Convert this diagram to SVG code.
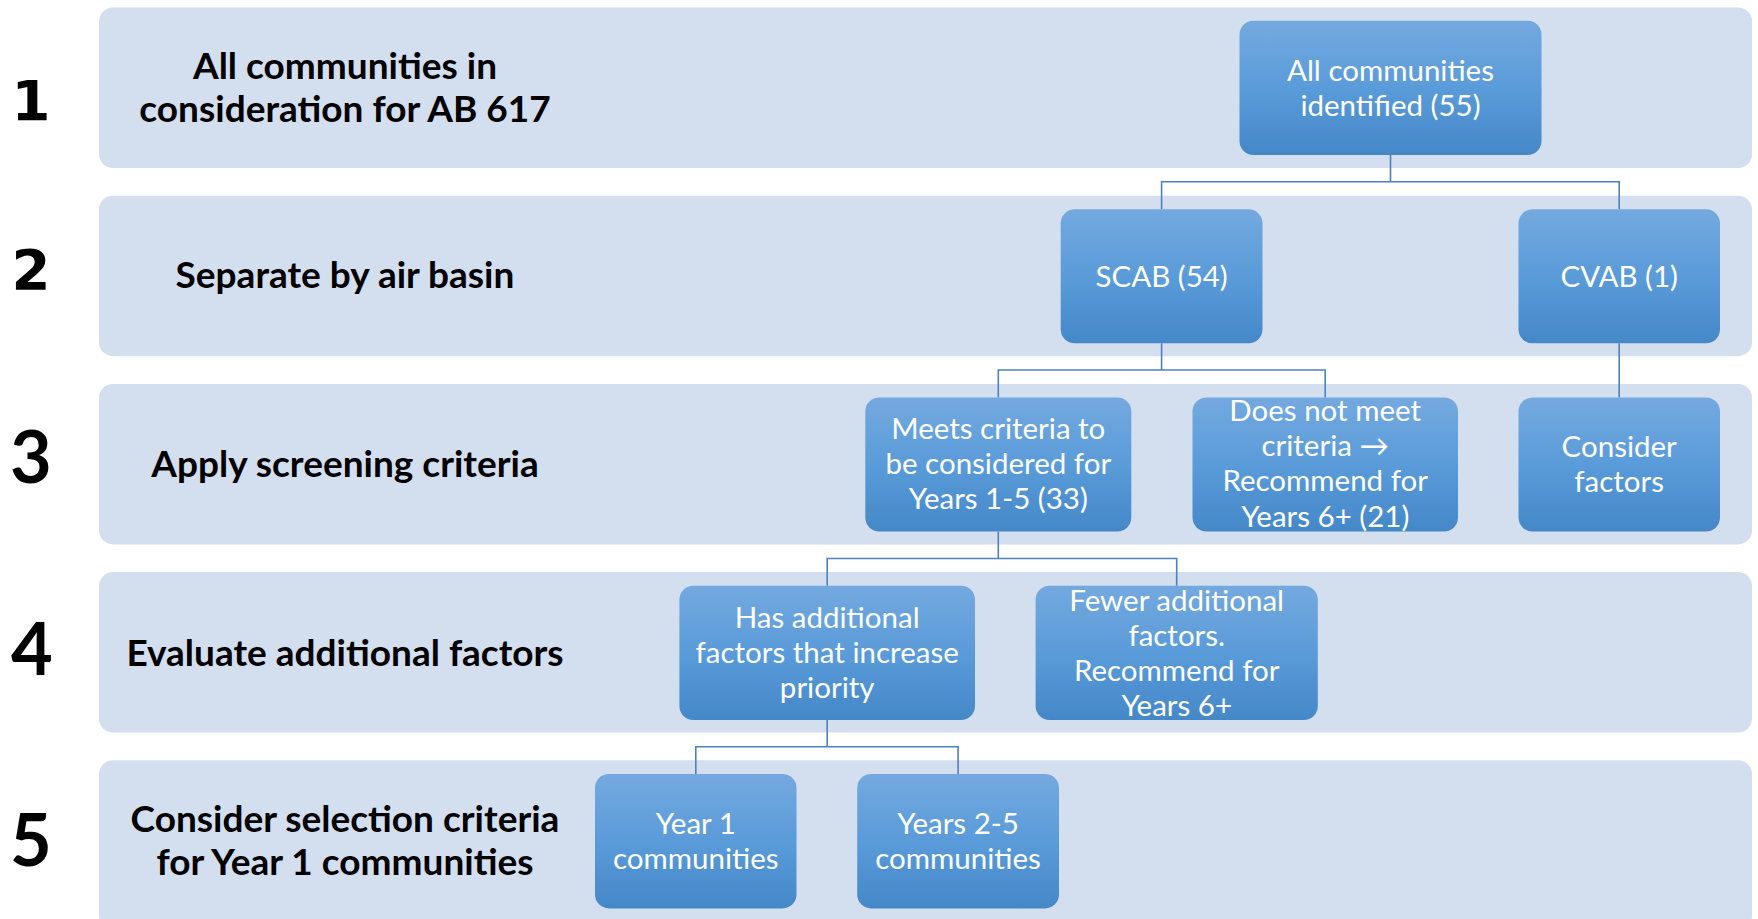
<svg xmlns="http://www.w3.org/2000/svg" width="1758" height="919" viewBox="0 0 1758 919">
  <defs>
    <linearGradient id="boxFill" x1="0" y1="0" x2="0" y2="1">
      <stop offset="0" stop-color="#74a9df"/>
      <stop offset="0.5" stop-color="#5a9bd9"/>
      <stop offset="1" stop-color="#4588c8"/>
    </linearGradient>
    <style>
      .band { fill: #d3deef; }
      .box { fill: url(#boxFill); }
      .step { font-family: Lato, "Liberation Sans", sans-serif; font-weight: 700; fill: #000; text-anchor: middle; }
      .stepv { font-family: "DejaVu Sans", Verdana, sans-serif; font-weight: 700; fill: #000; text-anchor: middle; }
      .label { font-family: Lato, "Liberation Sans", sans-serif; font-weight: 700; font-size: 37px; fill: #000; text-anchor: middle; }
      .txt { font-family: Lato, "Liberation Sans", sans-serif; font-size: 29.5px; fill: #fff; text-anchor: middle; }
      .conn { fill: none; stroke: #4f81bd; stroke-width: 1.6; }
    </style>
  </defs>

  <!-- stage bands -->
  <g id="band1">
    <rect class="band" x="99" y="7.5" width="1653" height="160.5" rx="14"/>
    <text class="stepv" x="31" y="119.5" font-size="56">1</text>
    <text class="label" x="345" y="78.5">All communities in</text>
    <text class="label" x="345" y="122">consideration for AB 617</text>
  </g>
  <g id="band2">
    <rect class="band" x="99" y="195.7" width="1653" height="160.5" rx="14"/>
    <text class="stepv" x="31" y="288.5" font-size="56">2</text>
    <text class="label" x="345" y="288">Separate by air basin</text>
  </g>
  <g id="band3">
    <rect class="band" x="99" y="383.9" width="1653" height="160.5" rx="14"/>
    <text class="step" x="31" y="482.5" font-size="72">3</text>
    <text class="label" x="345" y="476.5">Apply screening criteria</text>
  </g>
  <g id="band4">
    <rect class="band" x="99" y="572.1" width="1653" height="160.5" rx="14"/>
    <text class="step" x="32" y="674.5" font-size="72">4</text>
    <text class="label" x="345" y="666">Evaluate additional factors</text>
  </g>
  <g id="band5">
    <rect class="band" x="99" y="760.3" width="1653" height="170" rx="14"/>
    <text class="step" x="31" y="866" font-size="72">5</text>
    <text class="label" x="345" y="831.5">Consider selection criteria</text>
    <text class="label" x="345" y="875">for Year 1 communities</text>
  </g>

  <!-- connectors -->
  <g id="connectors">
    <path class="conn" d="M1390.5 155 V181.8 M1161.6 209.3 V181.8 H1619.2 V209.3"/>
    <path class="conn" d="M1161.6 343.3 V370 M998.3 397.5 V370 H1325.2 V397.5"/>
    <path class="conn" d="M1619.2 343.3 V397.5"/>
    <path class="conn" d="M998.3 531.5 V558.5 M827.2 585.7 V558.5 H1176.7 V585.7"/>
    <path class="conn" d="M827.2 720 V746.8 M695.8 773.9 V746.8 H958.1 V773.9"/>
  </g>

  <!-- nodes -->
  <g id="node-all">
    <rect class="box" x="1239.5" y="20.7" width="302" height="134.3" rx="14"/>
    <text class="txt" x="1390.5" y="80.5">All communities</text>
    <text class="txt" x="1390.5" y="115.5">identified (55)</text>
  </g>
  <g id="node-scab">
    <rect class="box" x="1060.7" y="209.3" width="201.8" height="134" rx="14"/>
    <text class="txt" x="1161.6" y="286.5">SCAB (54)</text>
  </g>
  <g id="node-cvab">
    <rect class="box" x="1518.5" y="209.3" width="201.5" height="134" rx="14"/>
    <text class="txt" x="1619.2" y="286.5">CVAB (1)</text>
  </g>
  <g id="node-meets">
    <rect class="box" x="865.3" y="397.5" width="266" height="134" rx="14"/>
    <text class="txt" x="998.3" y="438.8">Meets criteria to</text>
    <text class="txt" x="998.3" y="473.8">be considered for</text>
    <text class="txt" x="998.3" y="508.8">Years 1-5 (33)</text>
  </g>
  <g id="node-notmeet">
    <rect class="box" x="1192.5" y="397.5" width="265.5" height="134" rx="14"/>
    <text class="txt" x="1325.2" y="420.5">Does not meet</text>
    <text class="txt" x="1325.2" y="456">criteria →</text>
    <text class="txt" x="1325.2" y="491">Recommend for</text>
    <text class="txt" x="1325.2" y="526.5">Years 6+ (21)</text>
  </g>
  <g id="node-consider">
    <rect class="box" x="1518.5" y="397.5" width="201.5" height="134" rx="14"/>
    <text class="txt" x="1619.2" y="456.8">Consider</text>
    <text class="txt" x="1619.2" y="491.8">factors</text>
  </g>
  <g id="node-has">
    <rect class="box" x="679.4" y="585.7" width="295.6" height="134.3" rx="14"/>
    <text class="txt" x="827.2" y="627.8">Has additional</text>
    <text class="txt" x="827.2" y="663">factors that increase</text>
    <text class="txt" x="827.2" y="698">priority</text>
  </g>
  <g id="node-fewer">
    <rect class="box" x="1035.6" y="585.7" width="282.2" height="134.3" rx="14"/>
    <text class="txt" x="1176.7" y="610.5">Fewer additional</text>
    <text class="txt" x="1176.7" y="645.5">factors.</text>
    <text class="txt" x="1176.7" y="680.5">Recommend for</text>
    <text class="txt" x="1176.7" y="715.5">Years 6+</text>
  </g>
  <g id="node-year1">
    <rect class="box" x="595" y="773.9" width="201.5" height="134.5" rx="14"/>
    <text class="txt" x="695.8" y="833.8">Year 1</text>
    <text class="txt" x="695.8" y="868.8">communities</text>
  </g>
  <g id="node-years25">
    <rect class="box" x="857.2" y="773.9" width="201.8" height="134.5" rx="14"/>
    <text class="txt" x="958.1" y="833.8">Years 2-5</text>
    <text class="txt" x="958.1" y="868.8">communities</text>
  </g>
</svg>
